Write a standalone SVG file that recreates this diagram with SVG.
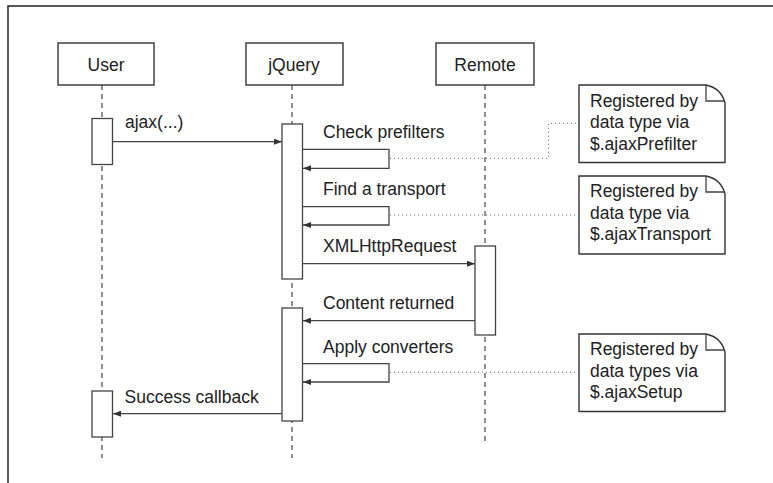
<svg xmlns="http://www.w3.org/2000/svg" width="773" height="483" viewBox="0 0 773 483">
<defs>
<marker id="ah" viewBox="0 0 8 6" refX="8" refY="3" markerWidth="8" markerHeight="6" markerUnits="userSpaceOnUse" orient="auto">
<path d="M0,0 L8,3 L0,6 Z" fill="#333"/>
</marker>
</defs>
<style>
text{font-family:"Liberation Sans",Arial,sans-serif;font-size:17.5px;fill:#222}
.box{fill:#fff;stroke:#333;stroke-width:1.4}
.act{fill:#fff;stroke:#444;stroke-width:1.3}
.life{fill:none;stroke:#555;stroke-width:1.3;stroke-dasharray:5,4}
.msg{fill:none;stroke:#444;stroke-width:1.3}
.dot{fill:none;stroke:#666;stroke-width:1;stroke-dasharray:1,3}
.mid{text-anchor:middle}
</style>
<rect width="773" height="483" fill="#fff"/>
<path d="M8,483 L8,6 L773,6" fill="none" stroke="#222" stroke-width="1.5"/>

<g id="lifelines">
<line class="life" x1="102" y1="85" x2="102" y2="458"/>
<line class="life" x1="292" y1="85" x2="292" y2="458"/>
<line class="life" x1="485" y1="85" x2="485" y2="445"/>
</g>

<g id="user">
<rect class="box" x="58" y="43" width="96" height="42"/>
<text class="mid" x="106" y="71">User</text>
</g>
<g id="jquery">
<rect class="box" x="246" y="43" width="97" height="42"/>
<text class="mid" x="294" y="71">jQuery</text>
</g>
<g id="remote">
<rect class="box" x="436" y="43" width="98" height="42"/>
<text class="mid" x="485" y="71">Remote</text>
</g>

<g id="activations">
<rect class="act" x="92" y="118.5" width="20.5" height="46"/>
<rect class="act" x="282" y="124" width="20.5" height="155"/>
<rect class="act" x="475" y="246" width="20.5" height="89"/>
<rect class="act" x="282" y="308" width="20.5" height="113"/>
<rect class="act" x="92" y="391" width="20.5" height="46"/>
</g>

<g id="note1">
<path class="box" d="M579,85 L706,85 Q721,88 725,103 L725,162.5 L579,162.5 Z"/>
<path class="msg" d="M706,85 L706,101 L725,101"/>
<text x="590" y="106.5">Registered by</text>
<text x="590" y="128.3">data type via</text>
<text x="590" y="150">$.ajaxPrefilter</text>
</g>
<g id="note2">
<path class="box" d="M579,176 L706,176 Q721,179 725,194 L725,254 L579,254 Z"/>
<path class="msg" d="M706,176 L706,192 L725,192"/>
<text x="590" y="197">Registered by</text>
<text x="590" y="218.7">data type via</text>
<text x="590" y="240.4">$.ajaxTransport</text>
</g>
<g id="note3">
<path class="box" d="M579,334 L706,334 Q721,337 725,352 L725,411.5 L579,411.5 Z"/>
<path class="msg" d="M706,334 L706,350 L725,350"/>
<text x="590" y="355">Registered by</text>
<text x="590" y="376.7">data types via</text>
<text x="590" y="398.4">$.ajaxSetup</text>
</g>

<g id="connectors">
<line class="msg" x1="113" y1="141.7" x2="282" y2="141.7" marker-end="url(#ah)"/>
<path class="msg" d="M302.5,149.3 L389,149.3 L389,168.3 L303,168.3" marker-end="url(#ah)"/>
<path class="msg" d="M302.5,206.7 L389,206.7 L389,225 L303,225" marker-end="url(#ah)"/>
<line class="msg" x1="302.5" y1="263.7" x2="475" y2="263.7" marker-end="url(#ah)"/>
<line class="msg" x1="475" y1="320.7" x2="303" y2="320.7" marker-end="url(#ah)"/>
<path class="msg" d="M302.5,363.7 L389,363.7 L389,382 L303,382" marker-end="url(#ah)"/>
<line class="msg" x1="282" y1="413.7" x2="113" y2="413.7" marker-end="url(#ah)"/>
<path class="dot" d="M390,158.3 L548.5,158.3 L548.5,123.3 L579,123.3"/>
<line class="dot" x1="390" y1="215" x2="579" y2="215"/>
<line class="dot" x1="390" y1="372.3" x2="579" y2="372.3"/>
</g>

<g id="labels">
<text x="125" y="128">ajax(...)</text>
<text x="323" y="137.7">Check prefilters</text>
<text x="323" y="195">Find a transport</text>
<text x="323" y="251.7">XMLHttpRequest</text>
<text x="323" y="309">Content returned</text>
<text x="323" y="352.7">Apply converters</text>
<text x="124.5" y="402.7">Success callback</text>
</g>
</svg>
